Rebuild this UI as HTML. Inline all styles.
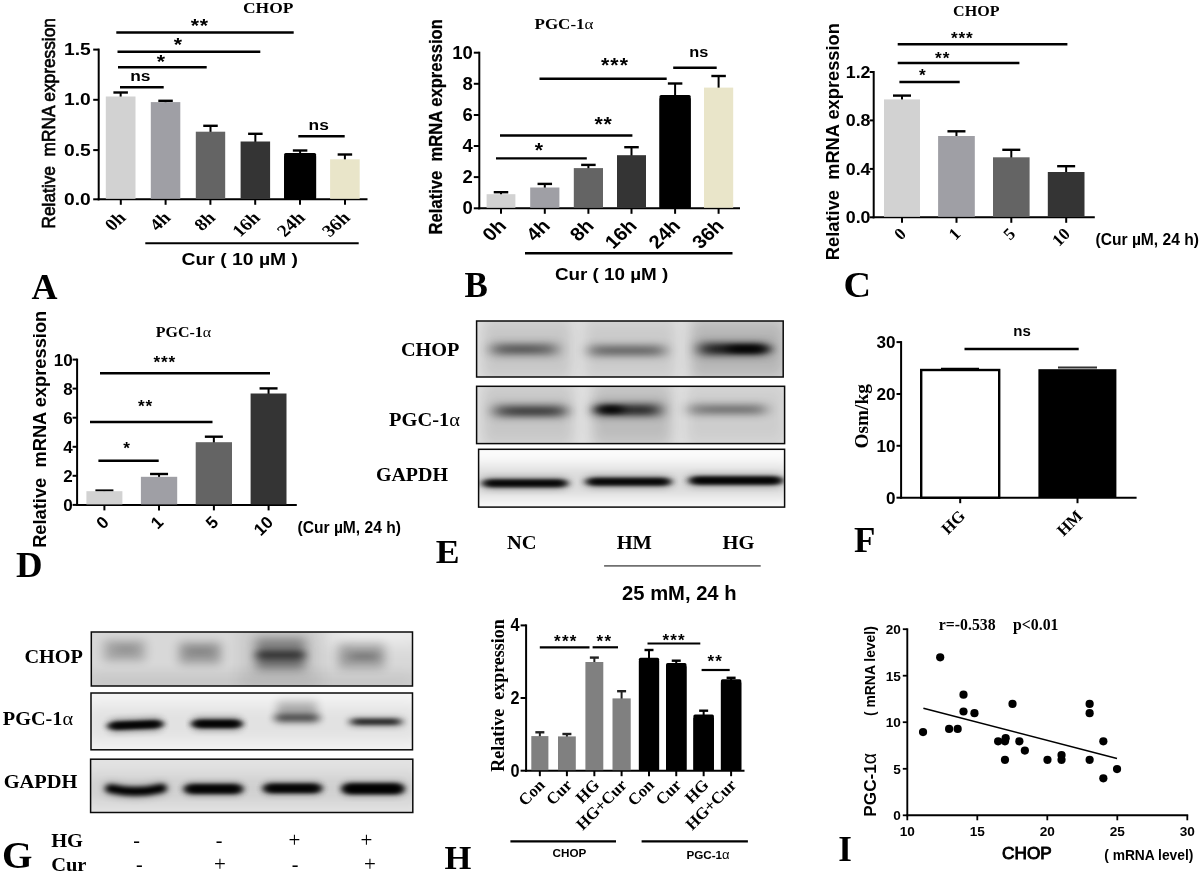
<!DOCTYPE html>
<html lang="en"><head><meta charset="utf-8"><title>Figure</title>
<style>
html,body{margin:0;padding:0;background:#fff;}
body{width:1200px;height:875px;overflow:hidden;}
svg{display:block;}
text{font-weight:bold;fill:#000;}
.sa{font-family:'Liberation Sans', Arial, sans-serif;}
.se{font-family:'Liberation Serif', 'Times New Roman', serif;}
.n{font-weight:normal;}
</style></head>
<body>
<svg width="1200" height="875" viewBox="0 0 1200 875">
<defs><filter id="f0" x="-50%" y="-400%" width="200%" height="900%"><feGaussianBlur stdDeviation="7 10"/></filter><filter id="f1" x="-50%" y="-400%" width="200%" height="900%"><feGaussianBlur stdDeviation="7 4.5"/></filter><filter id="f2" x="-50%" y="-400%" width="200%" height="900%"><feGaussianBlur stdDeviation="9 3"/></filter><filter id="f3" x="-50%" y="-400%" width="200%" height="900%"><feGaussianBlur stdDeviation="7 3.0"/></filter><filter id="f4" x="-50%" y="-400%" width="200%" height="900%"><feGaussianBlur stdDeviation="7 2.4"/></filter><filter id="f5" x="-50%" y="-400%" width="200%" height="900%"><feGaussianBlur stdDeviation="6 2.4"/></filter><filter id="f6" x="-50%" y="-400%" width="200%" height="900%"><feGaussianBlur stdDeviation="6 7"/></filter><filter id="f7" x="-50%" y="-400%" width="200%" height="900%"><feGaussianBlur stdDeviation="5.5 4"/></filter><filter id="f8" x="-50%" y="-400%" width="200%" height="900%"><feGaussianBlur stdDeviation="5 2.2"/></filter><filter id="f9" x="-50%" y="-400%" width="200%" height="900%"><feGaussianBlur stdDeviation="14 8"/></filter><filter id="f10" x="-50%" y="-400%" width="200%" height="900%"><feGaussianBlur stdDeviation="10 6"/></filter><filter id="f11" x="-50%" y="-400%" width="200%" height="900%"><feGaussianBlur stdDeviation="8 8"/></filter><filter id="f12" x="-50%" y="-400%" width="200%" height="900%"><feGaussianBlur stdDeviation="5.5 4.5"/></filter><filter id="f13" x="-50%" y="-400%" width="200%" height="900%"><feGaussianBlur stdDeviation="6 3.5"/></filter><filter id="f14" x="-50%" y="-400%" width="200%" height="900%"><feGaussianBlur stdDeviation="5.5 5.5"/></filter><filter id="f15" x="-50%" y="-400%" width="200%" height="900%"><feGaussianBlur stdDeviation="5 3"/></filter><filter id="f16" x="-50%" y="-400%" width="200%" height="900%"><feGaussianBlur stdDeviation="5.5 5"/></filter><filter id="f17" x="-50%" y="-400%" width="200%" height="900%"><feGaussianBlur stdDeviation="6 3.2"/></filter><filter id="f18" x="-50%" y="-400%" width="200%" height="900%"><feGaussianBlur stdDeviation="4.5 4.5"/></filter><filter id="f19" x="-50%" y="-400%" width="200%" height="900%"><feGaussianBlur stdDeviation="4 2.1"/></filter><filter id="f20" x="-50%" y="-400%" width="200%" height="900%"><feGaussianBlur stdDeviation="5 5"/></filter><filter id="f21" x="-50%" y="-400%" width="200%" height="900%"><feGaussianBlur stdDeviation="5 3.8"/></filter><filter id="f22" x="-50%" y="-400%" width="200%" height="900%"><feGaussianBlur stdDeviation="5 2.6"/></filter><filter id="f23" x="-50%" y="-400%" width="200%" height="900%"><feGaussianBlur stdDeviation="5 3.6"/></filter><filter id="f24" x="-50%" y="-400%" width="200%" height="900%"><feGaussianBlur stdDeviation="5 1.9"/></filter><filter id="f25" x="-50%" y="-400%" width="200%" height="900%"><feGaussianBlur stdDeviation="8 7"/></filter><filter id="f26" x="-50%" y="-400%" width="200%" height="900%"><feGaussianBlur stdDeviation="3.2 2.2"/></filter><filter id="f27" x="-50%" y="-400%" width="200%" height="900%"><feGaussianBlur stdDeviation="4 2.4"/></filter></defs>
<rect width="1200" height="875" fill="#fff"/>
<line x1="98.70" y1="48.60" x2="98.70" y2="200.30" stroke="#000" stroke-width="2" stroke-linecap="butt"/>
<line x1="97.70" y1="199.30" x2="367.50" y2="199.30" stroke="#000" stroke-width="2" stroke-linecap="butt"/>
<line x1="93.20" y1="49.60" x2="98.70" y2="49.60" stroke="#000" stroke-width="2" stroke-linecap="butt"/>
<text class="sa" font-size="17.2" text-anchor="end" transform="translate(90.70 55.10) scale(1.120 1)">1.5</text>
<line x1="93.20" y1="99.80" x2="98.70" y2="99.80" stroke="#000" stroke-width="2" stroke-linecap="butt"/>
<text class="sa" font-size="17.2" text-anchor="end" transform="translate(90.70 105.30) scale(1.120 1)">1.0</text>
<line x1="93.20" y1="150.10" x2="98.70" y2="150.10" stroke="#000" stroke-width="2" stroke-linecap="butt"/>
<text class="sa" font-size="17.2" text-anchor="end" transform="translate(90.70 155.60) scale(1.120 1)">0.5</text>
<line x1="93.20" y1="199.30" x2="98.70" y2="199.30" stroke="#000" stroke-width="2" stroke-linecap="butt"/>
<text class="sa" font-size="17.2" text-anchor="end" transform="translate(90.70 204.80) scale(1.120 1)">0.0</text>
<line x1="120.80" y1="199.30" x2="120.80" y2="204.80" stroke="#000" stroke-width="2" stroke-linecap="butt"/>
<line x1="165.60" y1="199.30" x2="165.60" y2="204.80" stroke="#000" stroke-width="2" stroke-linecap="butt"/>
<line x1="210.40" y1="199.30" x2="210.40" y2="204.80" stroke="#000" stroke-width="2" stroke-linecap="butt"/>
<line x1="255.20" y1="199.30" x2="255.20" y2="204.80" stroke="#000" stroke-width="2" stroke-linecap="butt"/>
<line x1="300.00" y1="199.30" x2="300.00" y2="204.80" stroke="#000" stroke-width="2" stroke-linecap="butt"/>
<line x1="345.00" y1="199.30" x2="345.00" y2="204.80" stroke="#000" stroke-width="2" stroke-linecap="butt"/>
<line x1="120.65" y1="92.50" x2="120.65" y2="97.50" stroke="#000" stroke-width="2" stroke-linecap="butt"/>
<line x1="113.40" y1="92.50" x2="127.90" y2="92.50" stroke="#000" stroke-width="2.4" stroke-linecap="butt"/>
<rect x="105.80" y="96.50" width="29.70" height="102.30" fill="#d2d2d2"/>
<line x1="165.55" y1="100.80" x2="165.55" y2="103.10" stroke="#000" stroke-width="2" stroke-linecap="butt"/>
<line x1="158.30" y1="100.80" x2="172.80" y2="100.80" stroke="#000" stroke-width="2.4" stroke-linecap="butt"/>
<rect x="150.80" y="102.10" width="29.50" height="96.70" fill="#9f9fa5"/>
<line x1="210.50" y1="125.80" x2="210.50" y2="132.70" stroke="#000" stroke-width="2" stroke-linecap="butt"/>
<line x1="203.25" y1="125.80" x2="217.75" y2="125.80" stroke="#000" stroke-width="2.4" stroke-linecap="butt"/>
<rect x="195.80" y="131.70" width="29.40" height="67.10" fill="#646464"/>
<line x1="255.35" y1="133.80" x2="255.35" y2="142.50" stroke="#000" stroke-width="2" stroke-linecap="butt"/>
<line x1="248.10" y1="133.80" x2="262.60" y2="133.80" stroke="#000" stroke-width="2.4" stroke-linecap="butt"/>
<rect x="240.60" y="141.50" width="29.50" height="57.30" fill="#343434"/>
<line x1="300.10" y1="150.50" x2="300.10" y2="154.20" stroke="#000" stroke-width="2" stroke-linecap="butt"/>
<line x1="292.85" y1="150.50" x2="307.35" y2="150.50" stroke="#000" stroke-width="2.4" stroke-linecap="butt"/>
<rect x="284.10" y="152.90" width="32.00" height="46.40" rx="1.6" fill="#000"/>
<rect x="284.10" y="156.20" width="32.00" height="42.60" fill="#000"/>
<line x1="344.90" y1="154.50" x2="344.90" y2="160.30" stroke="#000" stroke-width="2" stroke-linecap="butt"/>
<line x1="337.65" y1="154.50" x2="352.15" y2="154.50" stroke="#000" stroke-width="2.4" stroke-linecap="butt"/>
<rect x="330.10" y="159.30" width="29.60" height="39.50" fill="#e9e5c9"/>
<line x1="116.30" y1="32.50" x2="293.70" y2="32.50" stroke="#000" stroke-width="2.4" stroke-linecap="butt"/>
<text class="sa" font-size="19" text-anchor="middle" transform="translate(199.80 31.50) scale(1.120 1)" letter-spacing="0.6">**</text>
<line x1="117.50" y1="51.70" x2="260.30" y2="51.70" stroke="#000" stroke-width="2.4" stroke-linecap="butt"/>
<text class="sa" font-size="19" text-anchor="middle" transform="translate(178.00 51.00) scale(1.120 1)">*</text>
<line x1="118.00" y1="67.30" x2="206.70" y2="67.30" stroke="#000" stroke-width="2.4" stroke-linecap="butt"/>
<text class="sa" font-size="19" text-anchor="middle" transform="translate(160.80 67.50) scale(1.120 1)">*</text>
<line x1="120.00" y1="87.30" x2="163.70" y2="87.30" stroke="#000" stroke-width="2.4" stroke-linecap="butt"/>
<text class="sa" font-size="15.5" text-anchor="middle" transform="translate(140.40 81.30) scale(1.120 1)">ns</text>
<line x1="298.30" y1="136.30" x2="344.70" y2="136.30" stroke="#000" stroke-width="2.4" stroke-linecap="butt"/>
<text class="sa" font-size="15.5" text-anchor="middle" transform="translate(318.70 129.80) scale(1.120 1)">ns</text>
<text class="se" font-size="15.6" text-anchor="middle" transform="translate(268.20 13.30) scale(1.120 1)">CHOP</text>
<text class="se" font-size="17.2" text-anchor="end" transform="translate(126.80 218.80) scale(1.120 1) rotate(-45)">0h</text>
<text class="se" font-size="17.2" text-anchor="end" transform="translate(171.60 218.80) scale(1.120 1) rotate(-45)">4h</text>
<text class="se" font-size="17.2" text-anchor="end" transform="translate(216.40 218.80) scale(1.120 1) rotate(-45)">8h</text>
<text class="se" font-size="17.2" text-anchor="end" transform="translate(261.20 218.80) scale(1.120 1) rotate(-45)">16h</text>
<text class="se" font-size="17.2" text-anchor="end" transform="translate(306.00 218.80) scale(1.120 1) rotate(-45)">24h</text>
<text class="se" font-size="17.2" text-anchor="end" transform="translate(351.00 218.80) scale(1.120 1) rotate(-45)">36h</text>
<line x1="145.30" y1="243.30" x2="358.70" y2="243.30" stroke="#000" stroke-width="2" stroke-linecap="butt"/>
<text class="sa" font-size="17.3" text-anchor="middle" transform="translate(239.70 265.20) scale(1.120 1)">Cur ( 10 µM )</text>
<text class="sa n" font-size="17.3" text-anchor="middle" transform="translate(54.80 123.30) scale(1.050 1) rotate(-90)" stroke="#000" stroke-width="0.6">Relative&#160;&#160;mRNA expression</text>
<text class="se" font-size="36" transform="translate(31.50 298.50)">A</text>
<line x1="479.30" y1="51.70" x2="479.30" y2="209.30" stroke="#000" stroke-width="2" stroke-linecap="butt"/>
<line x1="478.30" y1="208.30" x2="740.00" y2="208.30" stroke="#000" stroke-width="2" stroke-linecap="butt"/>
<line x1="473.80" y1="52.70" x2="479.30" y2="52.70" stroke="#000" stroke-width="2" stroke-linecap="butt"/>
<text class="sa" font-size="17.8" text-anchor="end" transform="translate(472.80 58.70) scale(1.040 1)">10</text>
<line x1="473.80" y1="83.80" x2="479.30" y2="83.80" stroke="#000" stroke-width="2" stroke-linecap="butt"/>
<text class="sa" font-size="17.8" text-anchor="end" transform="translate(472.80 89.80) scale(1.040 1)">8</text>
<line x1="473.80" y1="115.00" x2="479.30" y2="115.00" stroke="#000" stroke-width="2" stroke-linecap="butt"/>
<text class="sa" font-size="17.8" text-anchor="end" transform="translate(472.80 121.00) scale(1.040 1)">6</text>
<line x1="473.80" y1="146.00" x2="479.30" y2="146.00" stroke="#000" stroke-width="2" stroke-linecap="butt"/>
<text class="sa" font-size="17.8" text-anchor="end" transform="translate(472.80 152.00) scale(1.040 1)">4</text>
<line x1="473.80" y1="177.10" x2="479.30" y2="177.10" stroke="#000" stroke-width="2" stroke-linecap="butt"/>
<text class="sa" font-size="17.8" text-anchor="end" transform="translate(472.80 183.10) scale(1.040 1)">2</text>
<line x1="473.80" y1="208.30" x2="479.30" y2="208.30" stroke="#000" stroke-width="2" stroke-linecap="butt"/>
<text class="sa" font-size="17.8" text-anchor="end" transform="translate(472.80 214.30) scale(1.040 1)">0</text>
<line x1="501.00" y1="208.30" x2="501.00" y2="213.80" stroke="#000" stroke-width="2" stroke-linecap="butt"/>
<line x1="544.80" y1="208.30" x2="544.80" y2="213.80" stroke="#000" stroke-width="2" stroke-linecap="butt"/>
<line x1="588.40" y1="208.30" x2="588.40" y2="213.80" stroke="#000" stroke-width="2" stroke-linecap="butt"/>
<line x1="631.50" y1="208.30" x2="631.50" y2="213.80" stroke="#000" stroke-width="2" stroke-linecap="butt"/>
<line x1="675.10" y1="208.30" x2="675.10" y2="213.80" stroke="#000" stroke-width="2" stroke-linecap="butt"/>
<line x1="718.60" y1="208.30" x2="718.60" y2="213.80" stroke="#000" stroke-width="2" stroke-linecap="butt"/>
<line x1="501.00" y1="192.20" x2="501.00" y2="195.20" stroke="#000" stroke-width="2" stroke-linecap="butt"/>
<line x1="493.75" y1="192.20" x2="508.25" y2="192.20" stroke="#000" stroke-width="2.4" stroke-linecap="butt"/>
<rect x="486.60" y="194.20" width="28.80" height="13.60" fill="#d2d2d2"/>
<line x1="544.80" y1="183.90" x2="544.80" y2="188.50" stroke="#000" stroke-width="2" stroke-linecap="butt"/>
<line x1="537.55" y1="183.90" x2="552.05" y2="183.90" stroke="#000" stroke-width="2.4" stroke-linecap="butt"/>
<rect x="530.20" y="187.50" width="29.20" height="20.30" fill="#9f9fa5"/>
<line x1="588.40" y1="164.90" x2="588.40" y2="169.10" stroke="#000" stroke-width="2" stroke-linecap="butt"/>
<line x1="581.15" y1="164.90" x2="595.65" y2="164.90" stroke="#000" stroke-width="2.4" stroke-linecap="butt"/>
<rect x="573.80" y="168.10" width="29.20" height="39.70" fill="#646464"/>
<line x1="631.50" y1="147.20" x2="631.50" y2="156.20" stroke="#000" stroke-width="2" stroke-linecap="butt"/>
<line x1="624.25" y1="147.20" x2="638.75" y2="147.20" stroke="#000" stroke-width="2.4" stroke-linecap="butt"/>
<rect x="617.00" y="155.20" width="29.00" height="52.60" fill="#343434"/>
<line x1="675.10" y1="83.50" x2="675.10" y2="96.30" stroke="#000" stroke-width="2" stroke-linecap="butt"/>
<line x1="667.85" y1="83.50" x2="682.35" y2="83.50" stroke="#000" stroke-width="2.4" stroke-linecap="butt"/>
<rect x="659.50" y="95.00" width="31.20" height="113.30" rx="1.6" fill="#000"/>
<rect x="659.50" y="98.30" width="31.20" height="109.50" fill="#000"/>
<line x1="718.60" y1="76.00" x2="718.60" y2="88.60" stroke="#000" stroke-width="2" stroke-linecap="butt"/>
<line x1="711.35" y1="76.00" x2="725.85" y2="76.00" stroke="#000" stroke-width="2.4" stroke-linecap="butt"/>
<rect x="704.00" y="87.60" width="29.20" height="120.20" fill="#e9e5c9"/>
<line x1="496.00" y1="158.40" x2="586.80" y2="158.40" stroke="#000" stroke-width="2.4" stroke-linecap="butt"/>
<text class="sa" font-size="19.5" text-anchor="middle" transform="translate(539.00 157.00) scale(1.090 1)">*</text>
<line x1="500.00" y1="135.50" x2="632.40" y2="135.50" stroke="#000" stroke-width="2.4" stroke-linecap="butt"/>
<text class="sa" font-size="19.5" text-anchor="middle" transform="translate(603.60 131.00) scale(1.090 1)" letter-spacing="0.8">**</text>
<line x1="539.50" y1="78.80" x2="666.70" y2="78.80" stroke="#000" stroke-width="2.4" stroke-linecap="butt"/>
<text class="sa" font-size="19.5" text-anchor="middle" transform="translate(615.00 71.50) scale(1.090 1)" letter-spacing="1">***</text>
<line x1="673.20" y1="67.70" x2="716.70" y2="67.70" stroke="#000" stroke-width="2.4" stroke-linecap="butt"/>
<text class="sa" font-size="15" text-anchor="middle" transform="translate(698.90 57.00) scale(1.090 1)">ns</text>
<text class="se" font-size="15.2" text-anchor="middle" transform="translate(564.00 28.80) scale(1.120 1)">PGC-1<tspan font-weight="normal">α</tspan></text>
<text class="sa" font-size="18.6" text-anchor="end" transform="translate(507.50 227.00) scale(1.090 1) rotate(-45)">0h</text>
<text class="sa" font-size="18.6" text-anchor="end" transform="translate(551.30 227.00) scale(1.090 1) rotate(-45)">4h</text>
<text class="sa" font-size="18.6" text-anchor="end" transform="translate(594.90 227.00) scale(1.090 1) rotate(-45)">8h</text>
<text class="sa" font-size="18.6" text-anchor="end" transform="translate(638.00 227.00) scale(1.090 1) rotate(-45)">16h</text>
<text class="sa" font-size="18.6" text-anchor="end" transform="translate(681.60 227.00) scale(1.090 1) rotate(-45)">24h</text>
<text class="sa" font-size="18.6" text-anchor="end" transform="translate(725.10 227.00) scale(1.090 1) rotate(-45)">36h</text>
<line x1="525.00" y1="253.20" x2="732.50" y2="253.20" stroke="#000" stroke-width="2.4" stroke-linecap="butt"/>
<text class="sa" font-size="17.3" text-anchor="middle" transform="translate(611.60 279.50) scale(1.090 1)">Cur ( 10 µM )</text>
<text class="sa" font-size="16.6" text-anchor="middle" transform="translate(442.20 126.80) scale(1.070 1) rotate(-90)" stroke="#000" stroke-width="0.25">Relative&#160;&#160;mRNA expression</text>
<text class="se" font-size="35" transform="translate(464.50 297.00)">B</text>
<line x1="873.70" y1="71.00" x2="873.70" y2="218.30" stroke="#000" stroke-width="2" stroke-linecap="butt"/>
<line x1="872.70" y1="217.30" x2="1094.80" y2="217.30" stroke="#000" stroke-width="2" stroke-linecap="butt"/>
<line x1="869.70" y1="72.00" x2="873.70" y2="72.00" stroke="#000" stroke-width="2" stroke-linecap="butt"/>
<text class="sa" font-size="16.2" text-anchor="end" transform="translate(870.50 77.60) scale(1.100 1)">1.2</text>
<line x1="869.70" y1="120.40" x2="873.70" y2="120.40" stroke="#000" stroke-width="2" stroke-linecap="butt"/>
<text class="sa" font-size="16.2" text-anchor="end" transform="translate(870.50 126.00) scale(1.100 1)">0.8</text>
<line x1="869.70" y1="168.90" x2="873.70" y2="168.90" stroke="#000" stroke-width="2" stroke-linecap="butt"/>
<text class="sa" font-size="16.2" text-anchor="end" transform="translate(870.50 174.50) scale(1.100 1)">0.4</text>
<line x1="869.70" y1="217.30" x2="873.70" y2="217.30" stroke="#000" stroke-width="2" stroke-linecap="butt"/>
<text class="sa" font-size="16.2" text-anchor="end" transform="translate(870.50 222.90) scale(1.100 1)">0.0</text>
<line x1="902.00" y1="217.30" x2="902.00" y2="222.80" stroke="#000" stroke-width="2" stroke-linecap="butt"/>
<line x1="956.50" y1="217.30" x2="956.50" y2="222.80" stroke="#000" stroke-width="2" stroke-linecap="butt"/>
<line x1="1011.30" y1="217.30" x2="1011.30" y2="222.80" stroke="#000" stroke-width="2" stroke-linecap="butt"/>
<line x1="1066.20" y1="217.30" x2="1066.20" y2="222.80" stroke="#000" stroke-width="2" stroke-linecap="butt"/>
<line x1="902.00" y1="95.60" x2="902.00" y2="100.40" stroke="#000" stroke-width="2" stroke-linecap="butt"/>
<line x1="893.00" y1="95.60" x2="911.00" y2="95.60" stroke="#000" stroke-width="2.4" stroke-linecap="butt"/>
<rect x="884.00" y="99.40" width="36.00" height="117.40" fill="#d2d2d2"/>
<line x1="956.45" y1="131.30" x2="956.45" y2="137.00" stroke="#000" stroke-width="2" stroke-linecap="butt"/>
<line x1="947.45" y1="131.30" x2="965.45" y2="131.30" stroke="#000" stroke-width="2.4" stroke-linecap="butt"/>
<rect x="938.10" y="136.00" width="36.70" height="80.80" fill="#9f9fa5"/>
<line x1="1011.30" y1="149.80" x2="1011.30" y2="158.30" stroke="#000" stroke-width="2" stroke-linecap="butt"/>
<line x1="1002.30" y1="149.80" x2="1020.30" y2="149.80" stroke="#000" stroke-width="2.4" stroke-linecap="butt"/>
<rect x="993.00" y="157.30" width="36.60" height="59.50" fill="#646464"/>
<line x1="1066.15" y1="166.20" x2="1066.15" y2="173.00" stroke="#000" stroke-width="2" stroke-linecap="butt"/>
<line x1="1057.15" y1="166.20" x2="1075.15" y2="166.20" stroke="#000" stroke-width="2.4" stroke-linecap="butt"/>
<rect x="1047.80" y="172.00" width="36.70" height="44.80" fill="#343434"/>
<line x1="897.70" y1="44.20" x2="1067.40" y2="44.20" stroke="#000" stroke-width="2.4" stroke-linecap="butt"/>
<text class="sa" font-size="17.2" text-anchor="middle" transform="translate(962.30 43.50)" letter-spacing="0.9">***</text>
<line x1="897.70" y1="63.00" x2="1019.40" y2="63.00" stroke="#000" stroke-width="2.4" stroke-linecap="butt"/>
<text class="sa" font-size="17.2" text-anchor="middle" transform="translate(942.70 63.50)" letter-spacing="0.9">**</text>
<line x1="899.40" y1="82.00" x2="959.70" y2="82.00" stroke="#000" stroke-width="2.4" stroke-linecap="butt"/>
<text class="sa" font-size="17.2" text-anchor="middle" transform="translate(922.40 81.00)">*</text>
<text class="se" font-size="15.6" text-anchor="middle" transform="translate(976.30 15.70) scale(1.030 1)">CHOP</text>
<text class="se" font-size="17.2" text-anchor="end" transform="translate(907.00 235.00) rotate(-45)">0</text>
<text class="se" font-size="17.2" text-anchor="end" transform="translate(961.50 235.00) rotate(-45)">1</text>
<text class="se" font-size="17.2" text-anchor="end" transform="translate(1016.30 235.00) rotate(-45)">5</text>
<text class="se" font-size="17.2" text-anchor="end" transform="translate(1071.20 235.00) rotate(-45)">10</text>
<text class="sa" font-size="16" transform="translate(1095.50 245.20) scale(0.975 1)">(Cur µM, 24 h)</text>
<text class="sa" font-size="18.3" text-anchor="middle" transform="translate(838.90 141.60) rotate(-90)">Relative&#160;&#160;mRNA expression</text>
<text class="se" font-size="36" transform="translate(843.50 297.00) scale(1.060 1)">C</text>
<line x1="77.10" y1="358.60" x2="77.10" y2="505.90" stroke="#000" stroke-width="2" stroke-linecap="butt"/>
<line x1="76.10" y1="504.90" x2="296.80" y2="504.90" stroke="#000" stroke-width="2" stroke-linecap="butt"/>
<line x1="72.60" y1="359.60" x2="77.10" y2="359.60" stroke="#000" stroke-width="2" stroke-linecap="butt"/>
<text class="sa" font-size="17.4" text-anchor="end" transform="translate(72.80 365.60) scale(0.980 1)">10</text>
<line x1="72.60" y1="388.60" x2="77.10" y2="388.60" stroke="#000" stroke-width="2" stroke-linecap="butt"/>
<text class="sa" font-size="17.4" text-anchor="end" transform="translate(72.80 394.60) scale(0.980 1)">8</text>
<line x1="72.60" y1="417.70" x2="77.10" y2="417.70" stroke="#000" stroke-width="2" stroke-linecap="butt"/>
<text class="sa" font-size="17.4" text-anchor="end" transform="translate(72.80 423.70) scale(0.980 1)">6</text>
<line x1="72.60" y1="446.80" x2="77.10" y2="446.80" stroke="#000" stroke-width="2" stroke-linecap="butt"/>
<text class="sa" font-size="17.4" text-anchor="end" transform="translate(72.80 452.80) scale(0.980 1)">4</text>
<line x1="72.60" y1="475.80" x2="77.10" y2="475.80" stroke="#000" stroke-width="2" stroke-linecap="butt"/>
<text class="sa" font-size="17.4" text-anchor="end" transform="translate(72.80 481.80) scale(0.980 1)">2</text>
<line x1="72.60" y1="504.90" x2="77.10" y2="504.90" stroke="#000" stroke-width="2" stroke-linecap="butt"/>
<text class="sa" font-size="17.4" text-anchor="end" transform="translate(72.80 510.90) scale(0.980 1)">0</text>
<line x1="104.40" y1="504.90" x2="104.40" y2="510.40" stroke="#000" stroke-width="2" stroke-linecap="butt"/>
<line x1="159.00" y1="504.90" x2="159.00" y2="510.40" stroke="#000" stroke-width="2" stroke-linecap="butt"/>
<line x1="213.90" y1="504.90" x2="213.90" y2="510.40" stroke="#000" stroke-width="2" stroke-linecap="butt"/>
<line x1="268.60" y1="504.90" x2="268.60" y2="510.40" stroke="#000" stroke-width="2" stroke-linecap="butt"/>
<line x1="104.40" y1="490.60" x2="104.40" y2="492.20" stroke="#000" stroke-width="2" stroke-linecap="butt"/>
<line x1="95.40" y1="490.60" x2="113.40" y2="490.60" stroke="#000" stroke-width="2.4" stroke-linecap="butt"/>
<rect x="86.40" y="491.20" width="36.00" height="13.20" fill="#d2d2d2"/>
<line x1="159.05" y1="474.00" x2="159.05" y2="477.80" stroke="#000" stroke-width="2" stroke-linecap="butt"/>
<line x1="150.05" y1="474.00" x2="168.05" y2="474.00" stroke="#000" stroke-width="2.4" stroke-linecap="butt"/>
<rect x="140.90" y="476.80" width="36.30" height="27.60" fill="#9f9fa5"/>
<line x1="213.85" y1="436.70" x2="213.85" y2="443.20" stroke="#000" stroke-width="2" stroke-linecap="butt"/>
<line x1="204.85" y1="436.70" x2="222.85" y2="436.70" stroke="#000" stroke-width="2.4" stroke-linecap="butt"/>
<rect x="195.70" y="442.20" width="36.30" height="62.20" fill="#646464"/>
<line x1="268.55" y1="388.40" x2="268.55" y2="394.50" stroke="#000" stroke-width="2" stroke-linecap="butt"/>
<line x1="259.55" y1="388.40" x2="277.55" y2="388.40" stroke="#000" stroke-width="2.4" stroke-linecap="butt"/>
<rect x="250.60" y="393.50" width="35.90" height="110.90" fill="#343434"/>
<line x1="100.00" y1="373.30" x2="270.00" y2="373.30" stroke="#000" stroke-width="2.4" stroke-linecap="butt"/>
<text class="sa" font-size="17.2" text-anchor="middle" transform="translate(164.80 368.00)" letter-spacing="0.9">***</text>
<line x1="90.00" y1="422.00" x2="212.50" y2="422.00" stroke="#000" stroke-width="2.4" stroke-linecap="butt"/>
<text class="sa" font-size="17.2" text-anchor="middle" transform="translate(145.50 412.00)" letter-spacing="0.9">**</text>
<line x1="98.40" y1="460.70" x2="158.70" y2="460.70" stroke="#000" stroke-width="2.4" stroke-linecap="butt"/>
<text class="sa" font-size="17.2" text-anchor="middle" transform="translate(126.50 453.70)">*</text>
<text class="se" font-size="15.2" text-anchor="middle" transform="translate(183.50 336.50) scale(1.050 1)">PGC-1<tspan font-weight="normal">α</tspan></text>
<text class="sa" font-size="17" text-anchor="end" transform="translate(109.90 523.30) rotate(-45)">0</text>
<text class="sa" font-size="17" text-anchor="end" transform="translate(164.50 523.30) rotate(-45)">1</text>
<text class="sa" font-size="17" text-anchor="end" transform="translate(219.40 523.30) rotate(-45)">5</text>
<text class="sa" font-size="17" text-anchor="end" transform="translate(274.10 523.30) rotate(-45)">10</text>
<text class="sa" font-size="16" transform="translate(297.50 532.80) scale(0.975 1)">(Cur µM, 24 h)</text>
<text class="sa" font-size="18.3" text-anchor="middle" transform="translate(46.20 429.30) rotate(-90)">Relative&#160;&#160;mRNA expression</text>
<text class="se" font-size="35" transform="translate(16.00 577.00) scale(1.050 1)">D</text>
<clipPath id="ce1"><rect x="476.6" y="321.0" width="306.6" height="56.0"/></clipPath>
<g clip-path="url(#ce1)">
<rect x="476.60" y="321.00" width="306.60" height="56.00" fill="#e2e2e2"/>
<rect x="482.0" y="318.0" width="90.0" height="62.0" rx="2.0" fill="#000" opacity="0.12" filter="url(#f0)"/>
<rect x="584.0" y="318.0" width="92.0" height="62.0" rx="2.0" fill="#000" opacity="0.1" filter="url(#f0)"/>
<rect x="690.0" y="318.0" width="96.0" height="62.0" rx="2.0" fill="#000" opacity="0.2" filter="url(#f0)"/>
<rect x="491.5" y="343.8" width="66.0" height="11.0" rx="2.5" fill="#000" opacity="0.46" filter="url(#f1)"/>
<rect x="500.0" y="346.8" width="44.0" height="5.0" rx="2.5" fill="#000" opacity="0.37" filter="url(#f2)"/>
<rect x="589.0" y="345.5" width="76.0" height="10.0" rx="2.5" fill="#000" opacity="0.44" filter="url(#f1)"/>
<rect x="597.0" y="348.6" width="60.0" height="4.5" rx="2.2" fill="#000" opacity="0.29" filter="url(#f2)"/>
<rect x="698.0" y="343.0" width="70.0" height="12.0" rx="2.5" fill="#000" opacity="0.61" filter="url(#f1)"/>
<rect x="706.0" y="345.5" width="60.0" height="7.0" rx="2.5" fill="#000" opacity="0.73" filter="url(#f3)"/>
<rect x="728.0" y="346.5" width="36.0" height="5.0" rx="2.5" fill="#000" opacity="1.0" filter="url(#f4)"/>
<rect x="728.0" y="346.5" width="36.0" height="5.0" rx="2.5" fill="#000" opacity="0.73" filter="url(#f4)"/>
</g>
<rect x="476.6" y="321.0" width="306.6" height="56.0" fill="none" stroke="#0a0a0a" stroke-width="1.5"/>
<clipPath id="ce2"><rect x="476.6" y="386.3" width="308.0" height="57.3"/></clipPath>
<g clip-path="url(#ce2)">
<rect x="476.60" y="386.30" width="308.00" height="57.30" fill="#e2e2e2"/>
<rect x="482.0" y="383.0" width="92.0" height="64.0" rx="2.0" fill="#000" opacity="0.12" filter="url(#f0)"/>
<rect x="592.0" y="383.0" width="80.0" height="64.0" rx="2.0" fill="#000" opacity="0.17" filter="url(#f0)"/>
<rect x="686.0" y="383.0" width="100.0" height="64.0" rx="2.0" fill="#000" opacity="0.09" filter="url(#f0)"/>
<rect x="494.0" y="405.5" width="72.0" height="11.0" rx="2.5" fill="#000" opacity="0.54" filter="url(#f1)"/>
<rect x="504.0" y="408.7" width="56.0" height="5.0" rx="2.5" fill="#000" opacity="0.61" filter="url(#f2)"/>
<rect x="594.0" y="404.0" width="68.0" height="12.0" rx="2.5" fill="#000" opacity="0.55" filter="url(#f1)"/>
<rect x="598.0" y="406.8" width="56.0" height="6.5" rx="2.5" fill="#000" opacity="0.69" filter="url(#f3)"/>
<rect x="600.0" y="406.8" width="22.0" height="5.5" rx="2.5" fill="#000" opacity="1.0" filter="url(#f5)"/>
<rect x="600.0" y="406.8" width="22.0" height="5.5" rx="2.5" fill="#000" opacity="0.48" filter="url(#f5)"/>
<rect x="688.0" y="405.0" width="78.0" height="9.0" rx="2.5" fill="#000" opacity="0.38" filter="url(#f1)"/>
<rect x="700.0" y="407.5" width="60.0" height="4.0" rx="2.0" fill="#000" opacity="0.32" filter="url(#f2)"/>
</g>
<rect x="476.6" y="386.3" width="308.0" height="57.3" fill="none" stroke="#0a0a0a" stroke-width="1.5"/>
<clipPath id="ce3"><rect x="478.6" y="449.3" width="306.0" height="57.8"/></clipPath>
<g clip-path="url(#ce3)">
<rect x="478.60" y="449.30" width="306.00" height="57.80" fill="#fbfbfb"/>
<rect x="470.0" y="466.0" width="320.0" height="32.0" rx="0.0" fill="#000" opacity="0.13" filter="url(#f6)"/>
<rect x="484.0" y="480.3" width="82.0" height="6.0" rx="2.5" fill="#000" opacity="0.73" filter="url(#f7)"/>
<rect x="485.0" y="481.1" width="80.0" height="4.5" rx="2.2" fill="#000" opacity="1.0" filter="url(#f8)"/>
<rect x="485.0" y="481.1" width="80.0" height="4.5" rx="2.2" fill="#000" opacity="1.0" filter="url(#f8)"/>
<rect x="485.0" y="481.1" width="80.0" height="4.5" rx="2.2" fill="#000" opacity="0.37" filter="url(#f8)"/>
<rect x="587.5" y="478.8" width="82.0" height="6.0" rx="2.5" fill="#000" opacity="0.73" filter="url(#f7)"/>
<rect x="588.5" y="479.6" width="80.0" height="4.5" rx="2.2" fill="#000" opacity="1.0" filter="url(#f8)"/>
<rect x="588.5" y="479.6" width="80.0" height="4.5" rx="2.2" fill="#000" opacity="1.0" filter="url(#f8)"/>
<rect x="588.5" y="479.6" width="80.0" height="4.5" rx="2.2" fill="#000" opacity="0.37" filter="url(#f8)"/>
<rect x="690.0" y="477.4" width="90.0" height="6.5" rx="2.5" fill="#000" opacity="0.69" filter="url(#f7)"/>
<rect x="692.0" y="478.1" width="88.0" height="5.0" rx="2.5" fill="#000" opacity="1.0" filter="url(#f8)"/>
<rect x="692.0" y="478.1" width="88.0" height="5.0" rx="2.5" fill="#000" opacity="1.0" filter="url(#f8)"/>
<rect x="692.0" y="478.1" width="88.0" height="5.0" rx="2.5" fill="#000" opacity="0.52" filter="url(#f8)"/>
</g>
<rect x="478.6" y="449.3" width="306.0" height="57.8" fill="none" stroke="#0a0a0a" stroke-width="1.5"/>
<text class="se" font-size="19.5" text-anchor="end" transform="translate(459.50 356.30) scale(1.040 1)">CHOP</text>
<text class="se" font-size="19.3" text-anchor="end" transform="translate(460.00 425.60) scale(1.060 1)">PGC-1<tspan font-weight="normal">α</tspan></text>
<text class="se" font-size="19.8" text-anchor="end" transform="translate(448.00 481.30) scale(1.010 1)">GAPDH</text>
<text class="se" font-size="19.5" text-anchor="middle" transform="translate(521.70 549.30) scale(1.050 1)">NC</text>
<text class="se" font-size="19.5" text-anchor="middle" transform="translate(634.30 549.30) scale(1.050 1)">HM</text>
<text class="se" font-size="19.5" text-anchor="middle" transform="translate(738.50 549.30) scale(1.050 1)">HG</text>
<line x1="604.10" y1="565.90" x2="760.70" y2="565.90" stroke="#707070" stroke-width="1.8" stroke-linecap="butt"/>
<text class="sa" font-size="20.2" text-anchor="middle" transform="translate(679.30 600.40)">25 mM, 24 h</text>
<text class="se" font-size="34" transform="translate(435.80 563.00) scale(1.050 1)">E</text>
<line x1="901.10" y1="341.10" x2="901.10" y2="498.70" stroke="#000" stroke-width="2" stroke-linecap="butt"/>
<line x1="900.10" y1="497.70" x2="1136.60" y2="497.70" stroke="#000" stroke-width="2" stroke-linecap="butt"/>
<line x1="896.50" y1="342.10" x2="901.10" y2="342.10" stroke="#000" stroke-width="2" stroke-linecap="butt"/>
<text class="sa" font-size="16.3" text-anchor="end" transform="translate(895.60 347.90) scale(1.050 1)">30</text>
<line x1="896.50" y1="394.00" x2="901.10" y2="394.00" stroke="#000" stroke-width="2" stroke-linecap="butt"/>
<text class="sa" font-size="16.3" text-anchor="end" transform="translate(895.60 399.80) scale(1.050 1)">20</text>
<line x1="896.50" y1="445.80" x2="901.10" y2="445.80" stroke="#000" stroke-width="2" stroke-linecap="butt"/>
<text class="sa" font-size="16.3" text-anchor="end" transform="translate(895.60 451.60) scale(1.050 1)">10</text>
<line x1="896.50" y1="497.70" x2="901.10" y2="497.70" stroke="#000" stroke-width="2" stroke-linecap="butt"/>
<text class="sa" font-size="16.3" text-anchor="end" transform="translate(895.60 503.50) scale(1.050 1)">0</text>
<line x1="960.20" y1="497.70" x2="960.20" y2="503.20" stroke="#000" stroke-width="2" stroke-linecap="butt"/>
<line x1="1077.50" y1="497.70" x2="1077.50" y2="503.20" stroke="#000" stroke-width="2" stroke-linecap="butt"/>
<rect x="921.20" y="370.00" width="78.00" height="127.70" fill="#fff" stroke="#000" stroke-width="2.4"/>
<rect x="1038.40" y="369.20" width="78.00" height="128.50" fill="#000"/>
<line x1="941.00" y1="368.60" x2="979.00" y2="368.60" stroke="#000" stroke-width="1.5" stroke-linecap="butt"/>
<line x1="1058.00" y1="367.50" x2="1097.00" y2="367.50" stroke="#333" stroke-width="1.8" stroke-linecap="butt"/>
<line x1="964.50" y1="349.00" x2="1078.70" y2="349.00" stroke="#000" stroke-width="2.4" stroke-linecap="butt"/>
<text class="sa" font-size="15" text-anchor="middle" transform="translate(1022.10 335.50)">ns</text>
<text class="se" font-size="16.5" text-anchor="end" transform="translate(966.20 517.00) rotate(-45)">HG</text>
<text class="se" font-size="16.5" text-anchor="end" transform="translate(1083.50 517.00) rotate(-45)">HM</text>
<text class="se" font-size="19.3" text-anchor="middle" transform="translate(868.30 416.30) rotate(-90)">Osm/kg</text>
<text class="se" font-size="35" transform="translate(854.00 552.30)">F</text>
<clipPath id="cg1"><rect x="91.3" y="632.0" width="321.2" height="54.0"/></clipPath>
<g clip-path="url(#cg1)">
<rect x="91.30" y="632.00" width="321.20" height="54.00" fill="#d8d8d8"/>
<rect x="330.0" y="618.0" width="100.0" height="28.0" rx="0.0" fill="#fff" opacity="0.5" filter="url(#f9)"/>
<rect x="85.0" y="672.0" width="335.0" height="20.0" rx="0.0" fill="#000" opacity="0.07" filter="url(#f10)"/>
<rect x="240.0" y="628.0" width="80.0" height="62.0" rx="0.0" fill="#000" opacity="0.08" filter="url(#f11)"/>
<rect x="104.0" y="640.0" width="41.0" height="21.0" rx="2.5" fill="#000" opacity="0.23" filter="url(#f12)"/>
<rect x="116.0" y="646.5" width="20.0" height="6.0" rx="2.5" fill="#000" opacity="0.15" filter="url(#f13)"/>
<rect x="179.0" y="642.0" width="42.0" height="22.0" rx="2.5" fill="#000" opacity="0.28" filter="url(#f12)"/>
<rect x="186.0" y="648.5" width="28.0" height="6.0" rx="2.5" fill="#000" opacity="0.17" filter="url(#f13)"/>
<rect x="256.0" y="639.0" width="49.0" height="30.0" rx="2.5" fill="#000" opacity="0.4" filter="url(#f14)"/>
<rect x="257.5" y="655.0" width="46.0" height="10.0" rx="2.5" fill="#000" opacity="0.19" filter="url(#f7)"/>
<rect x="256.5" y="652.2" width="48.0" height="5.0" rx="2.5" fill="#000" opacity="0.76" filter="url(#f15)"/>
<rect x="338.5" y="644.0" width="46.0" height="24.0" rx="2.5" fill="#000" opacity="0.28" filter="url(#f16)"/>
<rect x="350.0" y="653.2" width="28.0" height="6.0" rx="2.5" fill="#000" opacity="0.25" filter="url(#f17)"/>
</g>
<rect x="91.3" y="632.0" width="321.2" height="54.0" fill="none" stroke="#0a0a0a" stroke-width="1.5"/>
<clipPath id="cg2"><rect x="91.0" y="693.0" width="321.5" height="56.8"/></clipPath>
<g clip-path="url(#cg2)">
<rect x="91.00" y="693.00" width="321.50" height="56.80" fill="#f4f4f4"/>
<rect x="85.0" y="705.0" width="335.0" height="37.0" rx="0.0" fill="#000" opacity="0.07" filter="url(#f11)"/>
<g transform="rotate(-2.2 135.5 725)">
<rect x="110.0" y="721.5" width="51.0" height="7.0" rx="2.5" fill="#000" opacity="0.89" filter="url(#f18)"/>
<rect x="110.5" y="722.9" width="50.0" height="4.2" rx="2.1" fill="#000" opacity="1.0" filter="url(#f19)"/>
<rect x="110.5" y="722.9" width="50.0" height="4.2" rx="2.1" fill="#000" opacity="1.0" filter="url(#f19)"/>
<rect x="110.5" y="722.9" width="50.0" height="4.2" rx="2.1" fill="#000" opacity="1.0" filter="url(#f19)"/>
</g>
<rect x="193.5" y="720.3" width="47.0" height="7.0" rx="2.5" fill="#000" opacity="0.89" filter="url(#f18)"/>
<rect x="194.5" y="721.7" width="45.0" height="4.2" rx="2.1" fill="#000" opacity="1.0" filter="url(#f19)"/>
<rect x="194.5" y="721.7" width="45.0" height="4.2" rx="2.1" fill="#000" opacity="1.0" filter="url(#f19)"/>
<rect x="194.5" y="721.7" width="45.0" height="4.2" rx="2.1" fill="#000" opacity="1.0" filter="url(#f19)"/>
<rect x="277.0" y="702.0" width="40.0" height="16.0" rx="2.5" fill="#000" opacity="0.27" filter="url(#f20)"/>
<rect x="275.0" y="714.5" width="44.0" height="8.0" rx="2.5" fill="#000" opacity="0.42" filter="url(#f21)"/>
<rect x="276.0" y="715.3" width="42.0" height="5.0" rx="2.5" fill="#000" opacity="0.45" filter="url(#f22)"/>
<rect x="350.0" y="719.0" width="52.0" height="6.0" rx="2.5" fill="#000" opacity="0.59" filter="url(#f23)"/>
<rect x="353.0" y="720.3" width="46.0" height="3.0" rx="1.5" fill="#000" opacity="1.0" filter="url(#f24)"/>
<rect x="353.0" y="720.3" width="46.0" height="3.0" rx="1.5" fill="#000" opacity="0.53" filter="url(#f24)"/>
</g>
<rect x="91.0" y="693.0" width="321.5" height="56.8" fill="none" stroke="#0a0a0a" stroke-width="1.5"/>
<clipPath id="cg3"><rect x="90.6" y="759.2" width="322.2" height="53.3"/></clipPath>
<g clip-path="url(#cg3)">
<rect x="90.60" y="759.20" width="322.20" height="53.30" fill="#e2e2e2"/>
<rect x="85.0" y="775.0" width="335.0" height="27.0" rx="0.0" fill="#000" opacity="0.08" filter="url(#f25)"/>
<path d="M110 788.6 Q136 794.5 162 788.2" fill="none" stroke="#000" stroke-width="9" stroke-linecap="round" opacity="0.5" filter="url(#f18)"/>
<path d="M110 788.6 Q136 794.5 162 788.2" fill="none" stroke="#000" stroke-width="8.2" stroke-linecap="round" filter="url(#f26)"/>
<rect x="186.0" y="785.8" width="55.0" height="6.5" rx="2.5" fill="#000" opacity="0.94" filter="url(#f18)"/>
<rect x="187.0" y="786.6" width="53.0" height="4.8" rx="2.4" fill="#000" opacity="1.0" filter="url(#f27)"/>
<rect x="187.0" y="786.6" width="53.0" height="4.8" rx="2.4" fill="#000" opacity="1.0" filter="url(#f27)"/>
<rect x="187.0" y="786.6" width="53.0" height="4.8" rx="2.4" fill="#000" opacity="1.0" filter="url(#f27)"/>
<rect x="265.0" y="785.0" width="55.0" height="6.5" rx="2.5" fill="#000" opacity="0.94" filter="url(#f18)"/>
<rect x="266.0" y="785.9" width="53.0" height="4.8" rx="2.4" fill="#000" opacity="1.0" filter="url(#f27)"/>
<rect x="266.0" y="785.9" width="53.0" height="4.8" rx="2.4" fill="#000" opacity="1.0" filter="url(#f27)"/>
<rect x="266.0" y="785.9" width="53.0" height="4.8" rx="2.4" fill="#000" opacity="1.0" filter="url(#f27)"/>
<rect x="344.0" y="784.7" width="58.0" height="8.0" rx="2.5" fill="#000" opacity="0.8" filter="url(#f18)"/>
<rect x="345.0" y="785.6" width="56.0" height="6.3" rx="2.5" fill="#000" opacity="1.0" filter="url(#f27)"/>
<rect x="345.0" y="785.6" width="56.0" height="6.3" rx="2.5" fill="#000" opacity="1.0" filter="url(#f27)"/>
<rect x="345.0" y="785.6" width="56.0" height="6.3" rx="2.5" fill="#000" opacity="0.89" filter="url(#f27)"/>
</g>
<rect x="90.6" y="759.2" width="322.2" height="53.3" fill="none" stroke="#0a0a0a" stroke-width="1.5"/>
<text class="se" font-size="19.5" text-anchor="end" transform="translate(83.00 663.00) scale(1.040 1)">CHOP</text>
<text class="se" font-size="19.3" text-anchor="end" transform="translate(73.00 725.00) scale(1.050 1)">PGC-1<tspan font-weight="normal">α</tspan></text>
<text class="se" font-size="19.3" text-anchor="end" transform="translate(77.50 788.00) scale(1.060 1)">GAPDH</text>
<text class="se" font-size="19.5" transform="translate(51.20 846.80) scale(1.050 1)">HG</text>
<text class="se" font-size="19.5" transform="translate(51.20 870.80) scale(1.050 1)">Cur</text>
<text class="se" font-size="38" transform="translate(2.00 868.00) scale(1.030 1)">G</text>
<text class="se n" font-size="20" text-anchor="middle" transform="translate(136.60 846.60)">-</text>
<text class="se n" font-size="20" text-anchor="middle" transform="translate(219.00 846.60)">-</text>
<text class="se n" font-size="21" text-anchor="middle" transform="translate(294.40 846.60)">+</text>
<text class="se n" font-size="21" text-anchor="middle" transform="translate(366.40 846.60)">+</text>
<text class="se n" font-size="20" text-anchor="middle" transform="translate(139.40 870.60)">-</text>
<text class="se n" font-size="21" text-anchor="middle" transform="translate(219.80 870.80)">+</text>
<text class="se n" font-size="20" text-anchor="middle" transform="translate(295.20 870.60)">-</text>
<text class="se n" font-size="21" text-anchor="middle" transform="translate(369.80 870.80)">+</text>
<line x1="526.10" y1="624.40" x2="526.10" y2="771.70" stroke="#000" stroke-width="2" stroke-linecap="butt"/>
<line x1="525.10" y1="770.70" x2="744.50" y2="770.70" stroke="#000" stroke-width="2" stroke-linecap="butt"/>
<line x1="520.60" y1="625.40" x2="526.10" y2="625.40" stroke="#000" stroke-width="2" stroke-linecap="butt"/>
<text class="sa" font-size="17.5" text-anchor="end" transform="translate(519.60 631.40) scale(0.930 1)">4</text>
<line x1="520.60" y1="698.00" x2="526.10" y2="698.00" stroke="#000" stroke-width="2" stroke-linecap="butt"/>
<text class="sa" font-size="17.5" text-anchor="end" transform="translate(519.60 704.00) scale(0.930 1)">2</text>
<line x1="520.60" y1="770.70" x2="526.10" y2="770.70" stroke="#000" stroke-width="2" stroke-linecap="butt"/>
<text class="sa" font-size="17.5" text-anchor="end" transform="translate(519.60 776.70) scale(0.930 1)">0</text>
<line x1="539.85" y1="770.70" x2="539.85" y2="776.20" stroke="#000" stroke-width="2" stroke-linecap="butt"/>
<line x1="566.90" y1="770.70" x2="566.90" y2="776.20" stroke="#000" stroke-width="2" stroke-linecap="butt"/>
<line x1="594.35" y1="770.70" x2="594.35" y2="776.20" stroke="#000" stroke-width="2" stroke-linecap="butt"/>
<line x1="621.60" y1="770.70" x2="621.60" y2="776.20" stroke="#000" stroke-width="2" stroke-linecap="butt"/>
<line x1="649.00" y1="770.70" x2="649.00" y2="776.20" stroke="#000" stroke-width="2" stroke-linecap="butt"/>
<line x1="676.25" y1="770.70" x2="676.25" y2="776.20" stroke="#000" stroke-width="2" stroke-linecap="butt"/>
<line x1="703.65" y1="770.70" x2="703.65" y2="776.20" stroke="#000" stroke-width="2" stroke-linecap="butt"/>
<line x1="731.10" y1="770.70" x2="731.10" y2="776.20" stroke="#000" stroke-width="2" stroke-linecap="butt"/>
<line x1="539.85" y1="732.30" x2="539.85" y2="737.10" stroke="#222" stroke-width="2" stroke-linecap="butt"/>
<line x1="535.35" y1="732.30" x2="544.35" y2="732.30" stroke="#222" stroke-width="2.4" stroke-linecap="butt"/>
<rect x="531.30" y="736.10" width="17.10" height="34.10" fill="#808080"/>
<line x1="566.90" y1="734.00" x2="566.90" y2="737.40" stroke="#222" stroke-width="2" stroke-linecap="butt"/>
<line x1="562.40" y1="734.00" x2="571.40" y2="734.00" stroke="#222" stroke-width="2.4" stroke-linecap="butt"/>
<rect x="558.00" y="736.40" width="17.80" height="33.80" fill="#808080"/>
<line x1="594.35" y1="657.60" x2="594.35" y2="663.00" stroke="#222" stroke-width="2" stroke-linecap="butt"/>
<line x1="589.85" y1="657.60" x2="598.85" y2="657.60" stroke="#222" stroke-width="2.4" stroke-linecap="butt"/>
<rect x="585.40" y="662.00" width="17.90" height="108.20" fill="#808080"/>
<line x1="621.60" y1="691.20" x2="621.60" y2="699.40" stroke="#222" stroke-width="2" stroke-linecap="butt"/>
<line x1="617.10" y1="691.20" x2="626.10" y2="691.20" stroke="#222" stroke-width="2.4" stroke-linecap="butt"/>
<rect x="612.50" y="698.40" width="18.20" height="71.80" fill="#808080"/>
<line x1="649.00" y1="650.00" x2="649.00" y2="659.00" stroke="#000" stroke-width="2" stroke-linecap="butt"/>
<line x1="644.50" y1="650.00" x2="653.50" y2="650.00" stroke="#000" stroke-width="2.4" stroke-linecap="butt"/>
<rect x="638.90" y="657.70" width="20.20" height="113.00" rx="1.6" fill="#000"/>
<rect x="638.90" y="661.00" width="20.20" height="109.20" fill="#000"/>
<line x1="676.25" y1="660.70" x2="676.25" y2="664.40" stroke="#000" stroke-width="2" stroke-linecap="butt"/>
<line x1="671.75" y1="660.70" x2="680.75" y2="660.70" stroke="#000" stroke-width="2.4" stroke-linecap="butt"/>
<rect x="666.00" y="663.10" width="20.50" height="107.60" rx="1.6" fill="#000"/>
<rect x="666.00" y="666.40" width="20.50" height="103.80" fill="#000"/>
<line x1="703.65" y1="710.70" x2="703.65" y2="715.80" stroke="#000" stroke-width="2" stroke-linecap="butt"/>
<line x1="699.15" y1="710.70" x2="708.15" y2="710.70" stroke="#000" stroke-width="2.4" stroke-linecap="butt"/>
<rect x="693.40" y="714.50" width="20.50" height="56.20" rx="1.6" fill="#000"/>
<rect x="693.40" y="717.80" width="20.50" height="52.40" fill="#000"/>
<line x1="731.10" y1="677.80" x2="731.10" y2="680.50" stroke="#000" stroke-width="2" stroke-linecap="butt"/>
<line x1="726.60" y1="677.80" x2="735.60" y2="677.80" stroke="#000" stroke-width="2.4" stroke-linecap="butt"/>
<rect x="720.90" y="679.20" width="20.40" height="91.50" rx="1.6" fill="#000"/>
<rect x="720.90" y="682.50" width="20.40" height="87.70" fill="#000"/>
<line x1="539.80" y1="647.30" x2="589.50" y2="647.30" stroke="#000" stroke-width="2.2" stroke-linecap="butt"/>
<text class="sa" font-size="17" text-anchor="middle" transform="translate(565.80 647.30)" letter-spacing="1.2">***</text>
<line x1="592.60" y1="647.30" x2="618.00" y2="647.30" stroke="#000" stroke-width="2.2" stroke-linecap="butt"/>
<text class="sa" font-size="17" text-anchor="middle" transform="translate(604.40 647.30)" letter-spacing="1.2">**</text>
<line x1="647.50" y1="643.50" x2="700.30" y2="643.50" stroke="#000" stroke-width="2.2" stroke-linecap="butt"/>
<text class="sa" font-size="17" text-anchor="middle" transform="translate(674.10 646.30)" letter-spacing="1.2">***</text>
<line x1="701.60" y1="670.00" x2="729.70" y2="670.00" stroke="#000" stroke-width="2.2" stroke-linecap="butt"/>
<text class="sa" font-size="17" text-anchor="middle" transform="translate(715.30 667.30)" letter-spacing="1.2">**</text>
<text class="se" font-size="16.5" text-anchor="end" transform="translate(545.85 786.00) rotate(-45)">Con</text>
<text class="se" font-size="16.5" text-anchor="end" transform="translate(572.90 786.00) rotate(-45)">Cur</text>
<text class="se" font-size="16.5" text-anchor="end" transform="translate(600.35 786.00) rotate(-45)">HG</text>
<text class="se" font-size="16.5" text-anchor="end" transform="translate(627.60 786.00) rotate(-45)">HG+Cur</text>
<text class="se" font-size="16.5" text-anchor="end" transform="translate(655.00 786.00) rotate(-45)">Con</text>
<text class="se" font-size="16.5" text-anchor="end" transform="translate(682.25 786.00) rotate(-45)">Cur</text>
<text class="se" font-size="16.5" text-anchor="end" transform="translate(709.65 786.00) rotate(-45)">HG</text>
<text class="se" font-size="16.5" text-anchor="end" transform="translate(737.10 786.00) rotate(-45)">HG+Cur</text>
<text class="se" font-size="18" text-anchor="middle" transform="translate(503.50 695.50) rotate(-90)">Relative&#160;&#160;expression</text>
<line x1="510.40" y1="841.30" x2="616.00" y2="841.30" stroke="#000" stroke-width="2.3" stroke-linecap="butt"/>
<line x1="641.60" y1="841.30" x2="747.90" y2="841.30" stroke="#000" stroke-width="2.3" stroke-linecap="butt"/>
<text class="sa" font-size="11.7" text-anchor="middle" transform="translate(569.50 856.80)">CHOP</text>
<text class="sa" font-size="11.7" text-anchor="middle" transform="translate(708.00 858.50)">PGC-1<tspan font-weight="normal" font-size="13">α</tspan></text>
<text class="se" font-size="34.5" transform="translate(444.50 868.80)">H</text>
<line x1="907.30" y1="628.30" x2="907.30" y2="816.20" stroke="#000" stroke-width="1.9" stroke-linecap="butt"/>
<line x1="906.40" y1="815.30" x2="1188.20" y2="815.30" stroke="#000" stroke-width="1.9" stroke-linecap="butt"/>
<line x1="902.80" y1="629.20" x2="907.30" y2="629.20" stroke="#000" stroke-width="1.8" stroke-linecap="butt"/>
<text class="sa" font-size="13.6" text-anchor="end" transform="translate(900.80 634.00)">20</text>
<line x1="902.80" y1="675.70" x2="907.30" y2="675.70" stroke="#000" stroke-width="1.8" stroke-linecap="butt"/>
<text class="sa" font-size="13.6" text-anchor="end" transform="translate(900.80 680.50)">15</text>
<line x1="902.80" y1="722.20" x2="907.30" y2="722.20" stroke="#000" stroke-width="1.8" stroke-linecap="butt"/>
<text class="sa" font-size="13.6" text-anchor="end" transform="translate(900.80 727.00)">10</text>
<line x1="902.80" y1="768.80" x2="907.30" y2="768.80" stroke="#000" stroke-width="1.8" stroke-linecap="butt"/>
<text class="sa" font-size="13.6" text-anchor="end" transform="translate(900.80 773.60)">5</text>
<line x1="902.80" y1="815.30" x2="907.30" y2="815.30" stroke="#000" stroke-width="1.8" stroke-linecap="butt"/>
<text class="sa" font-size="13.6" text-anchor="end" transform="translate(900.80 820.10)">0</text>
<line x1="907.30" y1="815.30" x2="907.30" y2="820.30" stroke="#000" stroke-width="1.8" stroke-linecap="butt"/>
<text class="sa" font-size="13.6" text-anchor="middle" transform="translate(907.30 835.60)">10</text>
<line x1="977.30" y1="815.30" x2="977.30" y2="820.30" stroke="#000" stroke-width="1.8" stroke-linecap="butt"/>
<text class="sa" font-size="13.6" text-anchor="middle" transform="translate(977.30 835.60)">15</text>
<line x1="1047.30" y1="815.30" x2="1047.30" y2="820.30" stroke="#000" stroke-width="1.8" stroke-linecap="butt"/>
<text class="sa" font-size="13.6" text-anchor="middle" transform="translate(1047.30 835.60)">20</text>
<line x1="1117.30" y1="815.30" x2="1117.30" y2="820.30" stroke="#000" stroke-width="1.8" stroke-linecap="butt"/>
<text class="sa" font-size="13.6" text-anchor="middle" transform="translate(1117.30 835.60)">25</text>
<line x1="1187.30" y1="815.30" x2="1187.30" y2="820.30" stroke="#000" stroke-width="1.8" stroke-linecap="butt"/>
<text class="sa" font-size="13.6" text-anchor="middle" transform="translate(1187.30 835.60)">30</text>
<circle cx="940.19" cy="657.32" r="4.1"/>
<circle cx="963.50" cy="694.68" r="4.1"/>
<circle cx="963.50" cy="711.48" r="4.1"/>
<circle cx="974.46" cy="713.19" r="4.1"/>
<circle cx="923.05" cy="732.04" r="4.1"/>
<circle cx="949.10" cy="728.96" r="4.1"/>
<circle cx="957.67" cy="728.96" r="4.1"/>
<circle cx="1012.51" cy="703.93" r="4.1"/>
<circle cx="998.11" cy="741.30" r="4.1"/>
<circle cx="1004.97" cy="741.30" r="4.1"/>
<circle cx="1005.66" cy="738.21" r="4.1"/>
<circle cx="1004.97" cy="759.80" r="4.1"/>
<circle cx="1019.37" cy="741.30" r="4.1"/>
<circle cx="1024.85" cy="750.55" r="4.1"/>
<circle cx="1047.47" cy="759.80" r="4.1"/>
<circle cx="1061.53" cy="755.01" r="4.1"/>
<circle cx="1061.53" cy="759.80" r="4.1"/>
<circle cx="1089.63" cy="703.93" r="4.1"/>
<circle cx="1089.63" cy="713.19" r="4.1"/>
<circle cx="1089.63" cy="759.80" r="4.1"/>
<circle cx="1103.34" cy="741.30" r="4.1"/>
<circle cx="1103.34" cy="778.31" r="4.1"/>
<circle cx="1117.05" cy="769.06" r="4.1"/>
<line x1="923.40" y1="708.30" x2="1117.00" y2="758.40" stroke="#000" stroke-width="1.6" stroke-linecap="butt"/>
<text class="se" font-size="15.8" transform="translate(938.80 629.50)">r=-0.538</text>
<text class="se" font-size="15.8" transform="translate(1013.00 629.50)">p&lt;0.01</text>
<text class="sa" font-size="17.2" transform="translate(875.50 816.70) rotate(-90)">PGC-1<tspan font-weight="normal" font-size="19.5">α</tspan></text>
<text class="sa" font-size="13.9" transform="translate(874.80 716.00) rotate(-90)">( mRNA level)</text>
<text class="sa n" font-size="17.2" text-anchor="middle" transform="translate(1026.90 858.80)" stroke="#000" stroke-width="0.9">CHOP</text>
<text class="sa" font-size="13.8" transform="translate(1104.20 859.80)">( mRNA level)</text>
<text class="se" font-size="35" transform="translate(838.20 861.00)">I</text>
</svg>
</body></html>
